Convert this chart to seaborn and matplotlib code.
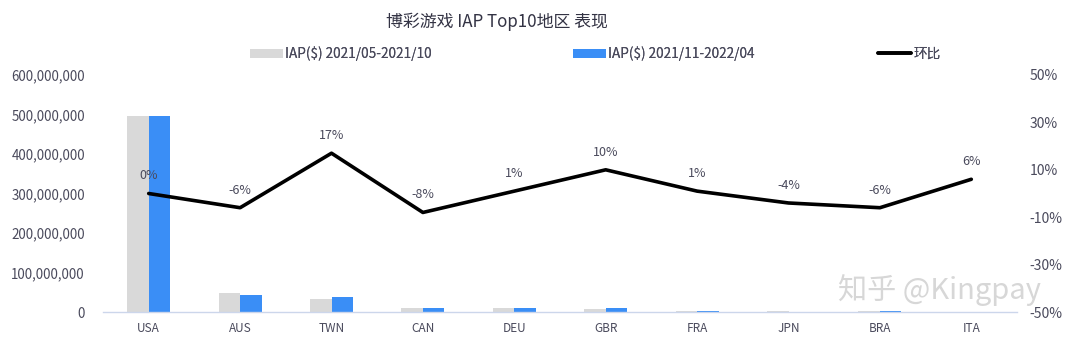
import numpy as np
import pandas as pd
import matplotlib
matplotlib.use("Agg")
import matplotlib.pyplot as plt
import matplotlib.ticker as mticker
from matplotlib.lines import Line2D
from matplotlib.patches import Patch
import seaborn as sns

regions = ["USA", "AUS", "TWN", "CAN", "DEU", "GBR", "FRA", "JPN", "BRA", "ITA"]
iap_prev = [496e6, 47e6, 33e6, 11e6, 10e6, 8.6e6, 3.0e6, 1.3e6, 1.6e6, 0.8e6]
iap_curr = [495e6, 44e6, 39e6, 10e6, 10e6, 9.5e6, 3.0e6, 1.25e6, 1.5e6, 0.85e6]
mom_pct = [0, -6, 17, -8, 1, 10, 1, -4, -6, 6]

label_prev = "IAP($) 2021/05-2021/10"
label_curr = "IAP($) 2021/11-2022/04"
label_mom = "环比"
title = "博彩游戏 IAP Top10地区 表现"

GRAY = "#d9d9d9"
BLUE = "#3a8ef6"
TEXT = "#4a4a5c"

sns.set_theme(style="white")
plt.rcParams["font.family"] = ["Noto Sans CJK SC", "DejaVu Sans"]

df = pd.DataFrame({
    "region": regions * 2,
    "value": iap_prev + iap_curr,
    "period": [label_prev] * len(regions) + [label_curr] * len(regions),
})

fig = plt.figure(figsize=(10.8, 3.37), dpi=100)
ax = fig.add_axes([103 / 1080, 1 - 312 / 337, (1017 - 103) / 1080, (312 - 75) / 337])

sns.barplot(data=df, x="region", y="value", hue="period",
            palette=[GRAY, BLUE], width=0.47, gap=0, ax=ax,
            legend=False, saturation=1, edgecolor="none", linewidth=0)
ax.set_xlim(-0.5, len(regions) - 0.5)
ax.set_ylim(0, 600e6)
ax.set_yticks(np.arange(0, 600e6 + 1, 100e6))
ax.yaxis.set_major_formatter(mticker.FuncFormatter(lambda v, p: f"{int(v):,}"))
ax.set_xlabel("")
ax.set_ylabel("")
ax.tick_params(axis="y", labelsize=9.6, colors=TEXT, length=0, pad=13)
ax.tick_params(axis="x", labelsize=8.5, colors=TEXT, length=0, pad=7)
for s in ["top", "left", "right"]:
    ax.spines[s].set_visible(False)
ax.spines["bottom"].set_color("#ccd6eb")
ax.spines["bottom"].set_linewidth(1)
ax.patch.set_alpha(0)

ax2 = ax.twinx()
xpos = np.arange(len(regions))
sns.lineplot(x=xpos, y=mom_pct, ax=ax2, color="black", linewidth=2.6)
ax2.set_ylim(-50, 50)
ax2.set_yticks([-50, -30, -10, 10, 30, 50])
ax2.yaxis.set_major_formatter(mticker.FuncFormatter(lambda v, p: f"{int(v)}%"))
ax2.tick_params(axis="y", labelsize=10, colors=TEXT, length=0, pad=9)
for s in ["top", "left", "right", "bottom"]:
    ax2.spines[s].set_visible(False)
ax2.grid(False)
ax2.set_xlim(-0.5, len(regions) - 0.5)

for x, v in zip(xpos, mom_pct):
    ax2.annotate(f"{v}%", (x, v), xytext=(0, 8), textcoords="offset points",
                 ha="center", va="bottom", fontsize=9, color=TEXT)

fig.text(497 / 1080, 1 - 22 / 337, title, ha="center", va="center",
         fontsize=12.2, color="#333344")

# one legend box per series, spread across the top
legend_items = [
    (Patch(facecolor=GRAY, edgecolor="none"), label_prev, 250),
    (Patch(facecolor=BLUE, edgecolor="none"), label_curr, 573),
    (Line2D([], [], color="black", linewidth=2.6), label_mom, 878),
]
for handle, text, left_px in legend_items:
    leg = fig.legend([handle], [text], loc="center left",
                     bbox_to_anchor=(left_px / 1080, 1 - 54 / 337),
                     frameon=False, fontsize=9.8, labelcolor=TEXT,
                     handlelength=2.4, handleheight=0.7, handletextpad=0.2,
                     borderaxespad=0, borderpad=0)
    fig.add_artist(leg)

fig.text(940 / 1080, 1 - 290 / 337, "知乎 @Kingpay", ha="center", va="center",
         fontsize=21, color="#d0d0d0", alpha=0.85)

fig.savefig("out.png", dpi=100, facecolor="white")
